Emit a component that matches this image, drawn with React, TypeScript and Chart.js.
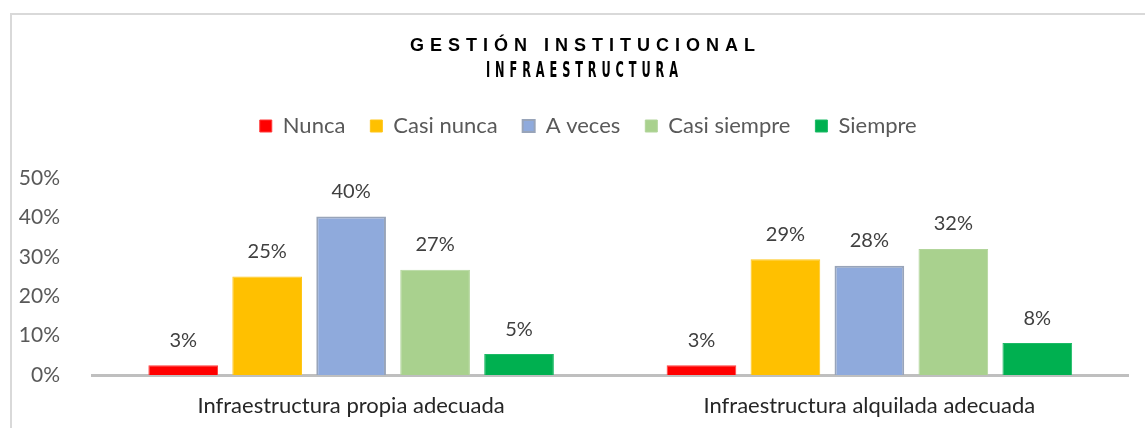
import React, { useEffect, useRef } from "react";
import { Chart, registerables } from "chart.js";

Chart.register(...registerables);

const categories = ["Infraestructura propia adecuada", "Infraestructura alquilada adecuada"];
const seriesNames = ["Nunca", "Casi nunca", "A veces", "Casi siempre", "Siempre"];
const nunca = [2.5, 2.5];
const casiNunca = [25, 29.4];
const aVeces = [40.2, 27.7];
const casiSiempre = [26.7, 32];
const siempre = [5.3, 8.1];
const yTicks = [0, 10, 20, 30, 40, 50];
const titleMain = "GESTIÓN INSTITUCIONAL";
const titleSub = "INFRAESTRUCTURA";

const FONT = "Lato, 'Open Sans', sans-serif";

const framePlugin = {
  id: "frame",
  beforeDraw(chart: any) {
    const ctx = chart.ctx;
    ctx.save();
    ctx.fillStyle = "#ffffff";
    ctx.fillRect(0, 0, chart.width, chart.height);
    ctx.fillStyle = "#D9D9D9";
    ctx.fillRect(10, 13, 2, chart.height - 13);
    ctx.fillRect(10, 13, chart.width - 10, 2);
    ctx.restore();
  },
};

function spacedText(ctx: any, text: string, cx: number, cy: number, font: string, targetW: number, sx: number) {
  ctx.save();
  ctx.font = font;
  (ctx as any).letterSpacing = "0px";
  const w = ctx.measureText(text).width;
  const n = text.length;
  const sp = (targetW / sx - w) / (n - 1);
  (ctx as any).letterSpacing = sp + "px";
  ctx.translate(cx - targetW / 2, cy);
  ctx.scale(sx, 1);
  ctx.textAlign = "left";
  ctx.textBaseline = "middle";
  ctx.fillText(text, 0, 0);
  ctx.restore();
}

const titlePlugin = {
  id: "spacedTitle",
  afterDraw(chart: any) {
    const ctx = chart.ctx;
    ctx.save();
    ctx.fillStyle = "#000000";
    spacedText(ctx, titleMain, 582.5, 46, "bold 18px 'Liberation Sans', Arial, sans-serif", 345, 1);
    spacedText(ctx, titleSub, 582, 72, "bold 21px 'DejaVu Sans Condensed', 'DejaVu Sans', sans-serif", 192, 0.6);
    ctx.restore();
  },
};

const labelPlugin = {
  id: "barLabels",
  afterDatasetsDraw(chart: any) {
    const ctx = chart.ctx;
    ctx.save();
    ctx.fillStyle = "#404040";
    ctx.font = `20px ${FONT}`;
    ctx.textAlign = "center";
    ctx.textBaseline = "middle";
    chart.data.datasets.forEach((ds: any, i: number) => {
      const meta = chart.getDatasetMeta(i);
      meta.data.forEach((bar: any, j: number) => {
        const v = ds.data[j];
        ctx.fillText(Math.round(v) + "%", bar.x, bar.y - 25);
      });
    });
    ctx.restore();
  },
};

const LEGEND_SHIFT = 24;
const legendFitPlugin = {
  id: "legendFit",
  afterInit(chart: any) {
    const lg = chart.legend;
    if (!lg) return;
    const origFit = lg.fit;
    lg.fit = function () {
      origFit.call(this);
      this.height = 88;
    };
    const origDraw = lg.draw;
    lg.draw = function () {
      const ctx = this.ctx;
      ctx.save();
      ctx.translate(LEGEND_SHIFT, 0);
      origDraw.call(this);
      ctx.restore();
    };
  },
};

export default function App() {
  const ref = useRef<HTMLCanvasElement | null>(null);
  useEffect(() => {
    if (!ref.current) return;
    const colors = ["#FF0000", "#FFC000", "#8FAADC", "#A9D18E", "#00B050"];
    const borders = ["#FF3B3B", "#FFC61A", "#98A4B9", "#B2D59B", "#1CBA66"];
    const values = [nunca, casiNunca, aVeces, casiSiempre, siempre];
    const chart = new Chart(ref.current, {
      type: "bar",
      data: {
        labels: categories,
        datasets: seriesNames.map((name, i) => ({
          label: name,
          data: values[i],
          backgroundColor: colors[i],
          borderColor: borders[i],
          borderWidth: i === 2 ? 2 : 1,
          categoryPercentage: 0.81,
          barPercentage: 0.83,
        })),
      },
      options: {
        animation: false,
        responsive: false,
        maintainAspectRatio: false,
        layout: { padding: { top: 90, right: 16.5, left: 0, bottom: 0 } },
        plugins: {
          title: { display: false },
          tooltip: { enabled: false },
          legend: {
            position: "top",
            labels: {
              boxWidth: 12,
              boxHeight: 12,
              color: "#595959",
              font: { family: FONT, size: 22 },
              padding: 25,
            },
          },
        },
        scales: {
          x: {
            grid: { display: false },
            border: { display: true, color: "#BFBFBF", width: 3 },
            ticks: { color: "#262626", font: { family: FONT, size: 22 }, padding: 10 },
            afterFit(scale: any) {
              scale.height = 53;
            },
          },
          y: {
            min: 0,
            max: 50,
            afterBuildTicks(scale: any) {
              scale.ticks = yTicks.map((v) => ({ value: v }));
            },
            grid: { display: false },
            border: { display: false },
            ticks: {
              color: "#595959",
              font: { family: FONT, size: 21 },
              padding: 24,
              callback: (v: any) => v + "%",
            },
            afterFit(scale: any) {
              scale.width = 92;
            },
          },
        },
      },
      plugins: [legendFitPlugin, framePlugin, titlePlugin, labelPlugin],
    } as any);
    return () => chart.destroy();
  }, []);
  return (
    <div style={{ position: "fixed", left: 0, top: 0, width: 1145, height: 428, background: "#fff" }}>
      <canvas ref={ref} width={1145} height={428} style={{ display: "block" }} />
    </div>
  );
}
